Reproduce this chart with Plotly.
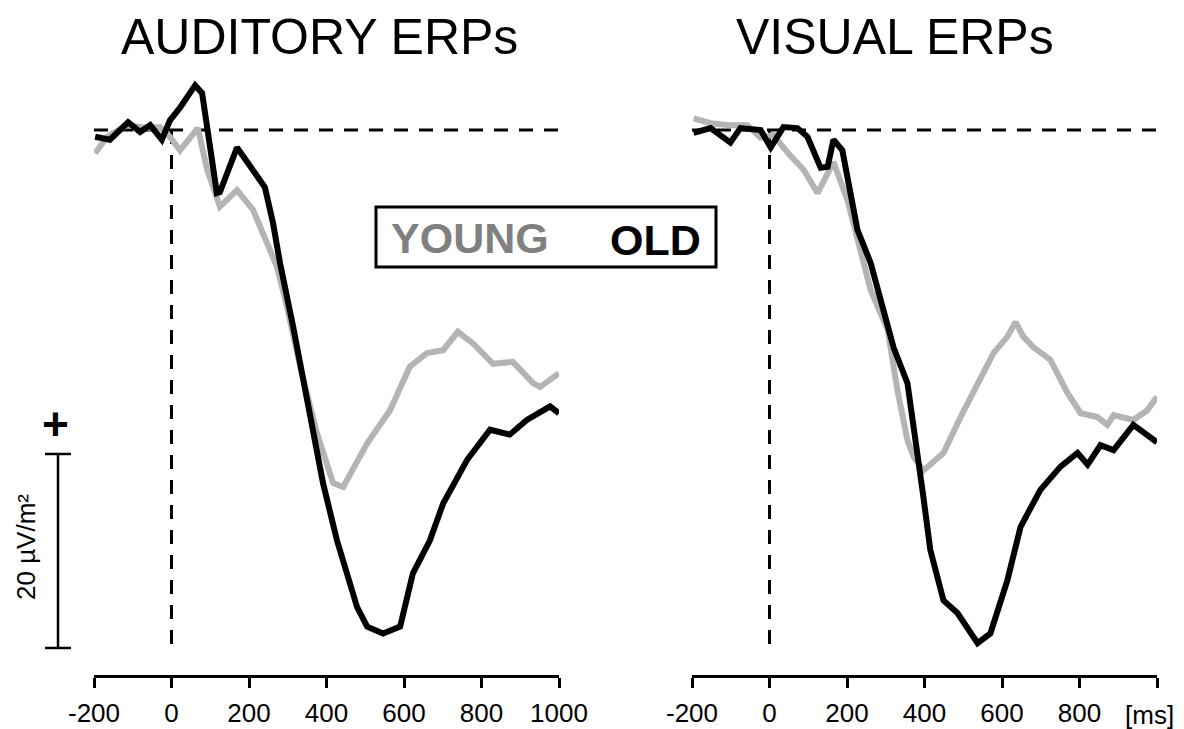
import plotly.graph_objects as go

# page body adds an 8px margin; the figure fills the rest of the window
OFF = 8
W, H = 1184 - OFF, 729 - OFF

# ---------------- data (ms, µV/m²) ----------------
aud_old_t = [-197, -159, -112, -81, -55, -25, -4, 22, 61, 79, 117, 125, 169, 210, 241, 262, 280, 314, 357,
             391, 427, 479, 505, 546, 590, 623, 667, 701, 763, 822, 873, 917, 977, 1000]
aud_old_v = [-0.7, -1.0, 0.8, -0.2, 0.5, -1.0, 1.0, 2.3, 4.6, 3.8, -6.5, -6.4, -1.8, -4.1, -5.9, -9.6, -13.7,
             -20.3, -29.6, -36.4, -42.3, -49.2, -51.2, -51.9, -51.2, -45.7, -42.3, -38.5, -34.0, -30.9, -31.4,
             -29.9, -28.5, -29.2]

aud_young_t = [-197, -166, -115, -63, -30, -4, 22, 55, 68, 92, 125, 169, 210, 246, 272, 298, 332, 375, 417,
               443, 505, 564, 615, 659, 701, 739, 778, 830, 881, 933, 951, 985, 1000]
aud_young_v = [-2.4, -0.7, 0.5, 0.2, 0.3, -0.7, -2.1, -0.3, 0.2, -4.1, -7.9, -6.2, -8.2, -11.6, -14.1, -18.2,
               -24.4, -31.2, -36.4, -36.8, -32.3, -28.9, -24.4, -23.0, -22.7, -20.8, -22.0, -24.1, -23.9, -26.1,
               -26.5, -25.5, -25.1]

vis_old_t = [-196, -152, -101, -75, -23, 3, 36, 72, 98, 132, 150, 165, 188, 209, 227, 261, 279, 320, 356, 382,
             397, 415, 449, 485, 537, 570, 614, 648, 699, 751, 795, 821, 854, 888, 939, 1000]
vis_old_v = [-0.3, 0.2, -1.3, 0.2, 0.0, -1.8, 0.3, 0.2, -0.7, -3.9, -3.8, -1.0, -2.1, -6.9, -10.3, -13.7, -16.2,
             -22.4, -26.1, -33.0, -37.8, -43.3, -48.5, -49.8, -52.9, -51.9, -46.4, -40.9, -37.1, -34.7, -33.3,
             -34.5, -32.5, -33.0, -30.4, -32.2]

vis_young_t = [-196, -152, -101, -57, -23, 10, 46, 88, 124, 150, 165, 201, 235, 261, 305, 330, 356, 372, 397,
               449, 493, 537, 578, 614, 635, 655, 681, 725, 769, 803, 846, 872, 888, 939, 975, 1000]
vis_young_v = [1.2, 0.7, 0.5, 0.5, -0.8, -0.5, -2.3, -4.1, -6.5, -4.4, -3.3, -7.2, -12.4, -16.5, -20.6, -26.8,
               -32.0, -33.7, -35.1, -33.3, -29.6, -26.1, -23.0, -21.3, -19.8, -21.3, -22.4, -23.7, -27.1, -29.2,
               -29.6, -30.4, -29.4, -29.9, -28.9, -27.5]

tick_vals = [-200, 0, 200, 400, 600, 800, 1000]
tick_text_left = ["-200", "0", "200", "400", "600", "800", "1000"]
tick_text_right = ["-200", "0", "200", "400", "600", "800", "[ms]"]
titles = ["AUDITORY ERPs", "VISUAL ERPs"]
groups = ["YOUNG", "OLD"]
scale_value = 20
scale_label = "20 µV/m²"

# ---------------- styling ----------------
GRAY_LINE = "#b4b4b4"
GRAY_TEXT = "#808080"
FONT = "Liberation Sans, Arial, sans-serif"
TICK_SIZE = 26

def px(x):
    return (x - OFF) / W

def py(y):
    return 1 - (y - OFF) / H

y_top_px, y_bot_px = 60, 675
y_per_px = 1 / 9.7
y_range = [(130 - y_bot_px) * y_per_px, (130 - y_top_px) * y_per_px]

fig = go.Figure()

fig.add_trace(go.Scatter(x=aud_young_t, y=aud_young_v, mode="lines", xaxis="x", yaxis="y",
                         line=dict(color=GRAY_LINE, width=6), showlegend=False))
fig.add_trace(go.Scatter(x=aud_old_t, y=aud_old_v, mode="lines", xaxis="x", yaxis="y",
                         line=dict(color="black", width=6), showlegend=False))
fig.add_trace(go.Scatter(x=vis_young_t, y=vis_young_v, mode="lines", xaxis="x2", yaxis="y2",
                         line=dict(color=GRAY_LINE, width=6), showlegend=False))
fig.add_trace(go.Scatter(x=vis_old_t, y=vis_old_v, mode="lines", xaxis="x2", yaxis="y2",
                         line=dict(color="black", width=6), showlegend=False))

xaxis_common = dict(range=[-200, 1000], showgrid=False, zeroline=False, showline=True, automargin=False,
                    linecolor="black", linewidth=2.5, ticks="outside", ticklen=10, tickwidth=3,
                    tickcolor="black", tickvals=tick_vals, ticklabelstandoff=3,
                    tickfont=dict(family=FONT, size=TICK_SIZE, color="black"), fixedrange=True)
yaxis_common = dict(range=y_range, visible=False, automargin=False,
                    domain=[py(y_bot_px), py(y_top_px)], fixedrange=True)

# last right-hand label sits at the page edge: it is drawn as a right-aligned text instead
right_axis_labels = tick_text_right[:-1] + [""]

fig.update_layout(
    template="none",
    width=W, height=H,
    margin=dict(l=0, r=0, t=0, b=0, pad=0, autoexpand=False),
    paper_bgcolor="white", plot_bgcolor="rgba(0,0,0,0)",
    xaxis=dict(**xaxis_common, domain=[px(94), px(559)], anchor="y", ticktext=tick_text_left),
    xaxis2=dict(**xaxis_common, domain=[px(692), px(1157)], anchor="y2", ticktext=right_axis_labels),
    yaxis=dict(**yaxis_common, anchor="x"),
    yaxis2=dict(**yaxis_common, anchor="x2"),
)

shapes = []
dash = "14px,11px"
for xr, yr in [("x", "y"), ("x2", "y2")]:
    shapes.append(dict(type="line", xref=xr, yref=yr, x0=-200, x1=1000, y0=0, y1=0,
                       line=dict(color="black", width=3, dash=dash), layer="below"))
    shapes.append(dict(type="line", xref=xr, yref=yr, x0=0, x1=0, y0=0, y1=-53.4,
                       line=dict(color="black", width=3, dash=dash), layer="below"))

# scale bar
sb_top = -33.4
sb_bot = sb_top - scale_value
shapes.append(dict(type="line", xref="paper", yref="y", x0=px(58), x1=px(58), y0=sb_top, y1=sb_bot,
                   line=dict(color="black", width=2.5)))
for yv in (sb_top, sb_bot):
    shapes.append(dict(type="line", xref="paper", yref="y", x0=px(45), x1=px(71), y0=yv, y1=yv,
                       line=dict(color="black", width=2.5)))

# legend box
shapes.append(dict(type="rect", xref="paper", yref="paper", x0=px(376), x1=px(716), y0=py(207), y1=py(267),
                   line=dict(color="black", width=3), fillcolor="white", layer="above"))

annotations = [
    dict(text=titles[0], x=px(319), y=py(37), xref="paper", yref="paper", showarrow=False,
         xanchor="center", yanchor="middle", font=dict(family=FONT, size=50, color="black")),
    dict(text=titles[1], x=px(895), y=py(37), xref="paper", yref="paper", showarrow=False,
         xanchor="center", yanchor="middle", font=dict(family=FONT, size=50, color="black")),
    dict(text="<b>%s</b>" % groups[0], x=px(470), y=py(238), xref="paper", yref="paper", showarrow=False,
         xanchor="center", yanchor="middle", font=dict(family=FONT, size=43, color=GRAY_TEXT)),
    dict(text="<b>%s</b>" % groups[1], x=px(656), y=py(240), xref="paper", yref="paper", showarrow=False,
         xanchor="center", yanchor="middle", font=dict(family=FONT, size=43, color="black")),
    dict(text="<b>+</b>", x=px(55), y=py(424), xref="paper", yref="paper", showarrow=False,
         xanchor="center", yanchor="middle", font=dict(family=FONT, size=46, color="black")),
    dict(text=scale_label, x=px(26), y=py(547), xref="paper", yref="paper", showarrow=False,
         textangle=-90, xanchor="center", yanchor="middle", font=dict(family=FONT, size=26, color="black")),
    dict(text=tick_text_right[-1], x=px(1175), y=py(715), xref="paper", yref="paper", showarrow=False,
         xanchor="right", yanchor="middle", borderpad=0,
         font=dict(family=FONT, size=TICK_SIZE, color="black")),
]

fig.update_layout(shapes=shapes, annotations=annotations)

fig.write_html("out.html")
